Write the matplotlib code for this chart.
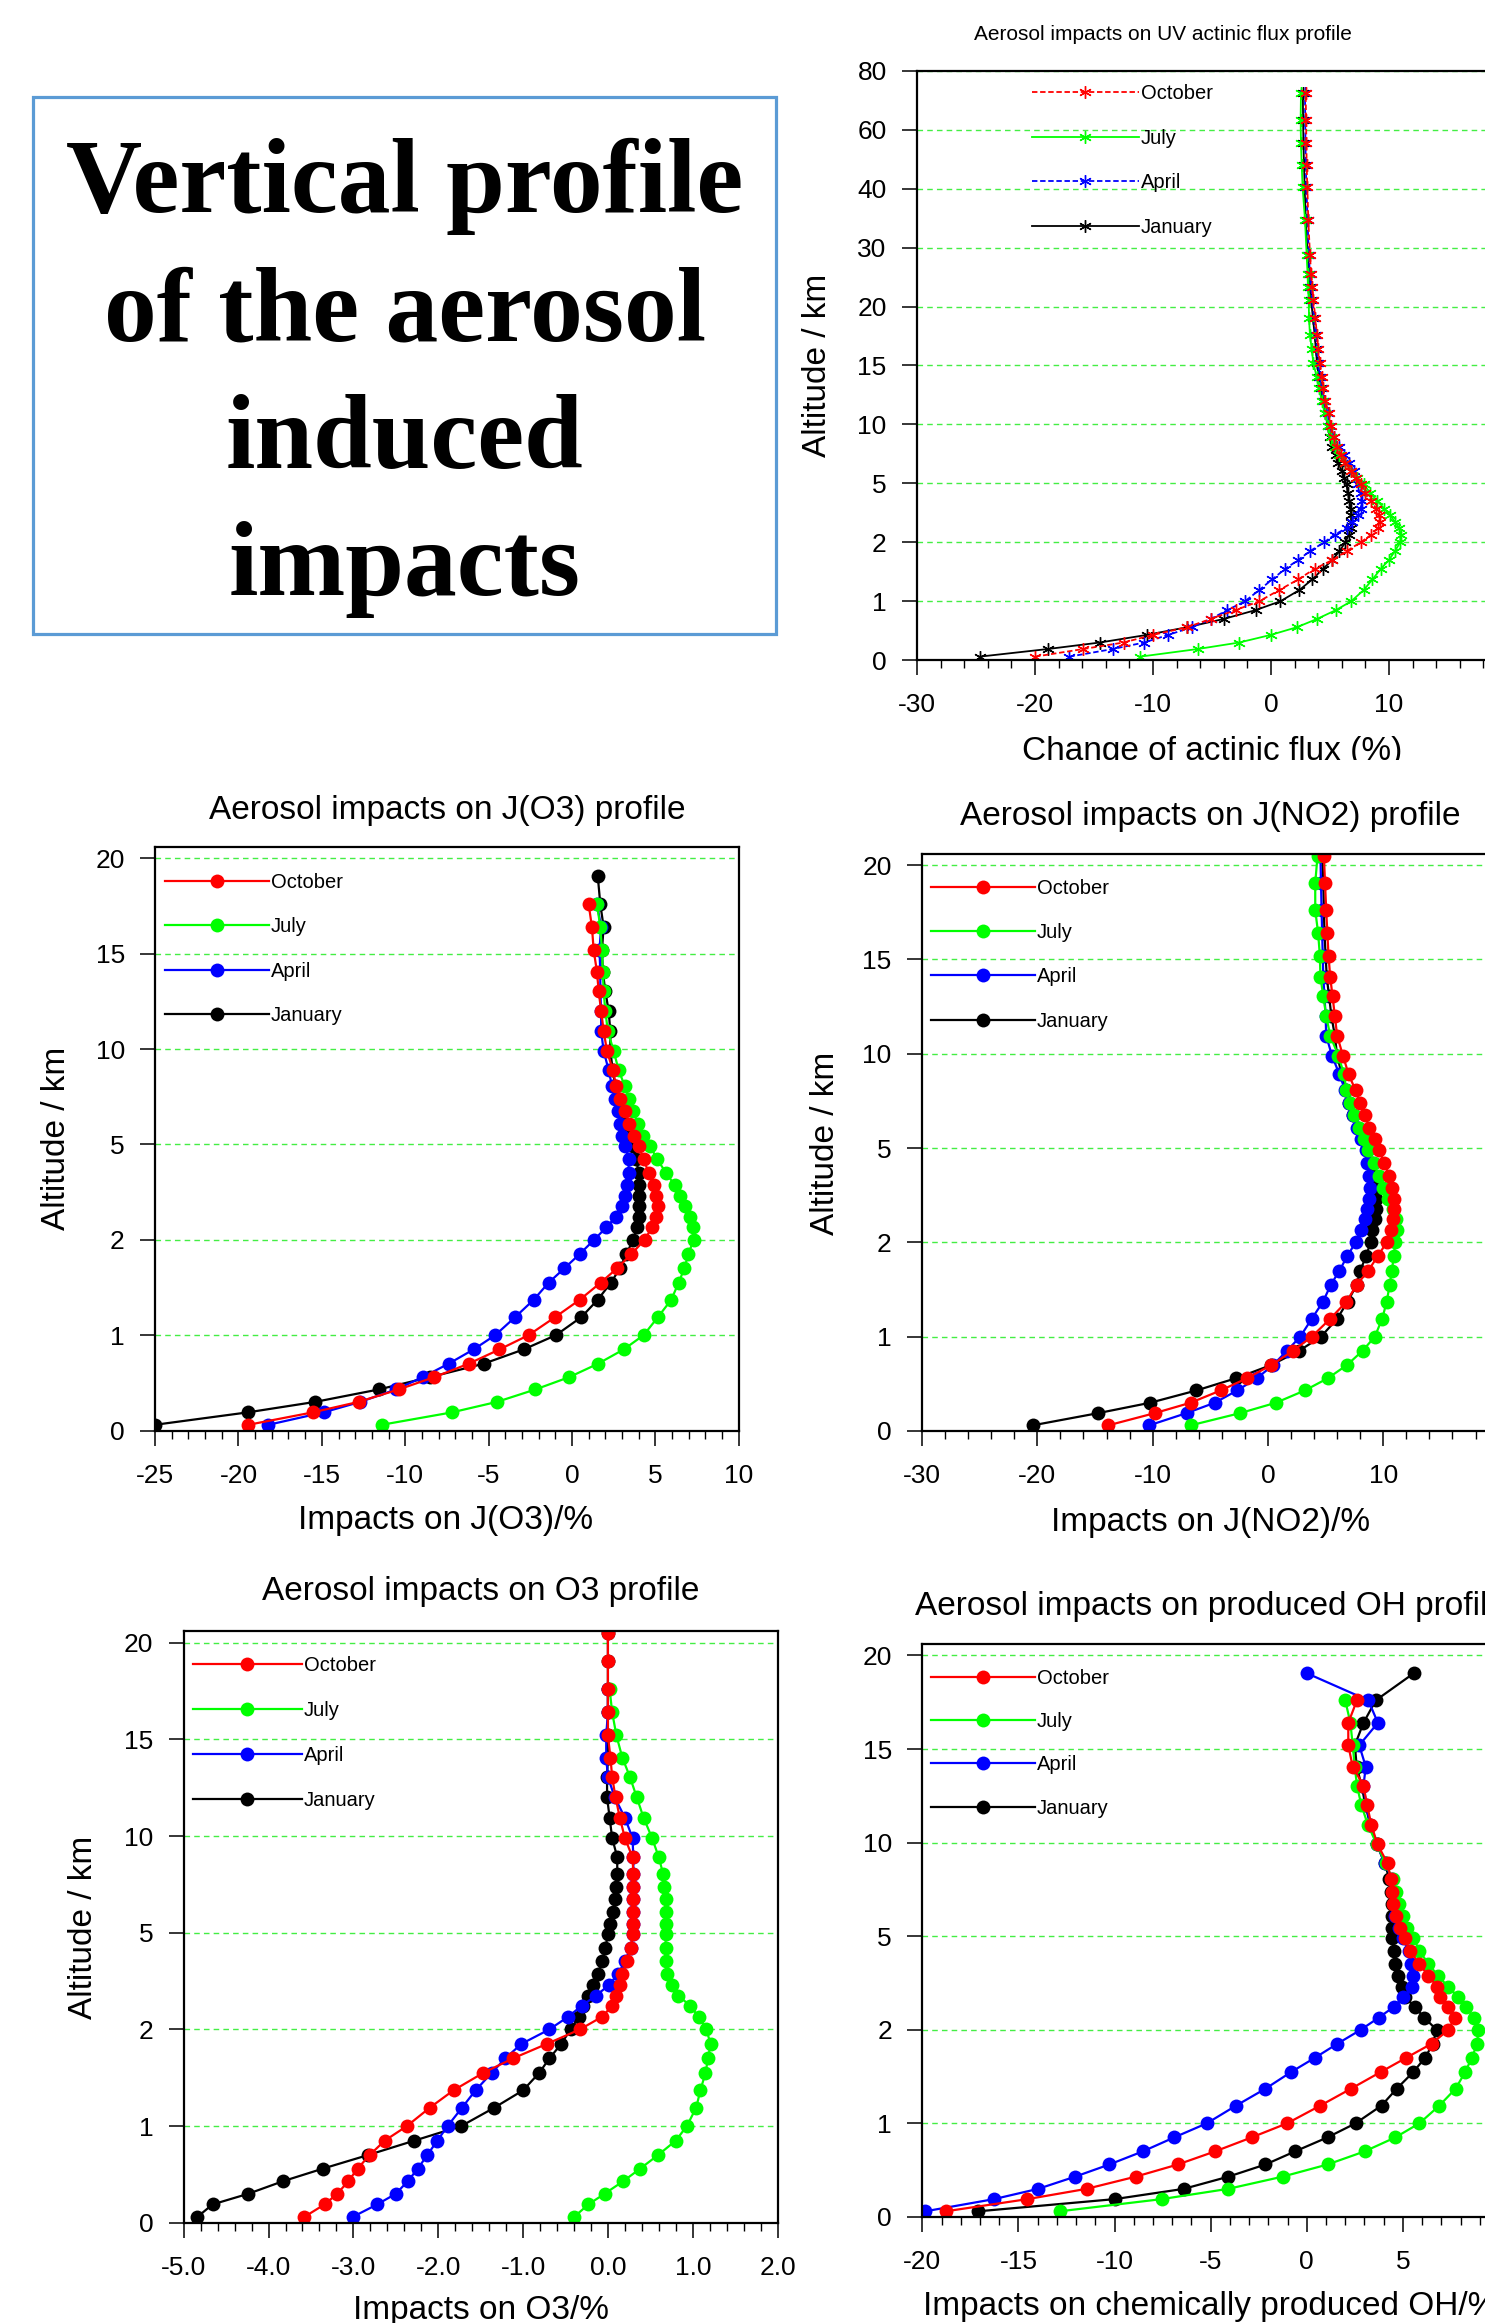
import numpy as np
import matplotlib
matplotlib.use("Agg")
import matplotlib.pyplot as plt
from matplotlib.patches import Rectangle
from matplotlib.ticker import MultipleLocator, NullLocator, FormatStrFormatter
from matplotlib.transforms import Bbox

plt.rcParams["font.family"] = ["Liberation Sans", "DejaVu Sans"]
plt.rcParams["axes.unicode_minus"] = False

# model levels (km)
ALT = [0.06, 0.19, 0.30, 0.43, 0.56, 0.70, 0.85, 1.00, 1.19, 1.37, 1.55, 1.70, 1.85,
       2.00, 2.39, 2.73, 3.05, 3.37, 3.72, 4.11, 4.53, 4.95, 5.46, 6.08, 6.73, 7.37,
       8.05, 8.90, 9.90, 10.95, 12.00, 13.05, 14.05, 15.20, 16.40, 17.60, 19.05, 20.50]
ALT_TOP = ALT[:37] + [21.1, 23.3, 25.5, 28.8, 34.7, 40.5, 48.0, 55.4, 63.2, 72.4]

MONTHS = ["October", "July", "April", "January"]
COLORS = {"October": "#ff0000", "July": "#00ff00", "April": "#0000ff", "January": "#000000"}

# UV actinic flux change (%)
FLUX_OCT = [-20.0, -15.9, -12.5, -10.0, -7.1, -5.1, -3.0, -1.0, 0.7, 2.3, 3.7, 5.2, 6.4,
            7.6, 8.5, 9.05, 9.2, 9.15, 8.9, 8.5, 8.0, 7.6, 7.2, 6.75, 6.3, 5.95, 5.6, 5.3, 5.1,
            4.9, 4.6, 4.43, 4.29, 4.15, 4.0, 3.9, 3.75,
            3.6, 3.5, 3.4, 3.3, 3.16, 3.08, 3.02, 3.0, 2.97, 2.94]
FLUX_JUL = [-11.1, -6.2, -2.7, 0.0, 2.2, 3.9, 5.5, 6.8, 7.85, 8.6, 9.3, 10.0, 10.5,
            10.95, 11.0, 10.85, 10.5, 10.1, 9.6, 9.0, 8.4, 7.85, 7.3, 6.8, 6.3, 5.8, 5.4, 5.05, 4.85,
            4.55, 4.3, 4.07, 3.87, 3.59, 3.45, 3.3, 3.22,
            3.2, 3.13, 3.1, 3.02, 2.88, 2.68, 2.6, 2.54, 2.51, 2.54]
FLUX_APR = [-17.1, -13.4, -10.75, -8.7, -6.7, -5.1, -3.7, -2.2, -1.0, 0.1, 1.2, 2.3, 3.3,
            4.5, 5.4, 6.4, 6.9, 7.4, 7.6, 7.7, 7.6, 7.4, 7.2, 7.0, 6.6, 6.2, 5.8, 5.35, 5.0,
            4.8, 4.5, 4.3, 4.15, 4.0, 3.9, 3.8, 3.65,
            3.5, 3.4, 3.3, 3.2, 3.1, 3.0, 2.95, 2.92, 2.9, 2.88]
FLUX_JAN = [-24.7, -18.9, -14.5, -10.5, -7.1, -4.0, -1.3, 0.8, 2.4, 3.5, 4.4, 5.2, 5.8,
            6.3, 6.6, 6.75, 6.8, 6.8, 6.75, 6.65, 6.5, 6.4, 6.2, 6.0, 5.7, 5.5, 5.2, 5.0, 4.8,
            4.6, 4.4, 4.2, 4.05, 3.9, 3.8, 3.7, 3.55,
            3.4, 3.3, 3.2, 3.1, 2.95, 2.85, 2.8, 2.75, 2.72, 2.7]

# impacts on J(O3) (%)
JO3_OCT = [-19.4, -15.55, -12.8, -10.4, -8.25, -6.2, -4.35, -2.6, -1.0, 0.46, 1.72, 2.7, 3.56,
           4.36, 4.8, 5.05, 5.16, 5.05, 4.93, 4.6, 4.3, 4.0, 3.7, 3.45, 3.2, 2.9, 2.65, 2.45, 2.1,
           1.9, 1.75, 1.6, 1.5, 1.3, 1.2, 1.0]
JO3_JUL = [-11.4, -7.2, -4.5, -2.2, -0.16, 1.56, 3.1, 4.3, 5.16, 5.95, 6.4, 6.74, 6.98,
           7.3, 7.25, 7.05, 6.8, 6.5, 6.15, 5.65, 5.1, 4.7, 4.25, 3.97, 3.67, 3.44, 3.17, 2.8, 2.5,
           2.15, 2.0, 1.9, 1.85, 1.8, 1.7, 1.5]
JO3_APR = [-18.2, -14.9, -12.7, -10.55, -8.95, -7.4, -5.9, -4.6, -3.4, -2.3, -1.4, -0.46, 0.46,
           1.33, 2.06, 2.64, 2.98, 3.17, 3.33, 3.4, 3.4, 3.2, 3.03, 2.87, 2.75, 2.57, 2.4, 2.2, 1.9,
           1.75, 1.75, 1.7, 1.7, 1.65, 1.75, 1.5]
JO3_JAN = [-25.0, -19.45, -15.4, -11.6, -8.5, -5.3, -2.9, -0.96, 0.57, 1.54, 2.34, 2.87, 3.26,
           3.67, 3.9, 4.0, 4.05, 4.05, 4.0, 4.0, 3.85, 3.65, 3.4, 3.2, 3.0, 2.8, 2.6, 2.45, 2.3,
           2.3, 2.2, 2.0, 1.85, 1.8, 1.9, 1.7, 1.55]

# impacts on J(NO2) (%)
JNO2_OCT = [-13.85, -9.8, -6.7, -4.1, -1.8, 0.3, 2.17, 3.8, 5.4, 6.8, 7.7, 8.7, 9.5,
            10.3, 10.7, 10.85, 10.9, 10.9, 10.75, 10.5, 10.1, 9.6, 9.25, 8.8, 8.4, 8.0, 7.6, 7.0, 6.5,
            6.0, 5.8, 5.6, 5.4, 5.25, 5.15, 5.05, 4.95, 4.85]
JNO2_JUL = [-6.7, -2.4, 0.7, 3.2, 5.2, 6.86, 8.2, 9.27, 9.9, 10.3, 10.55, 10.75, 10.9,
            11.05, 11.2, 11.1, 10.8, 10.4, 10.0, 9.6, 9.2, 8.7, 8.3, 7.9, 7.5, 7.1, 6.8, 6.6, 6.1,
            5.4, 5.05, 4.8, 4.55, 4.5, 4.35, 4.1, 4.1, 4.3]
JNO2_APR = [-10.3, -7.05, -4.6, -2.67, -0.95, 0.45, 1.64, 2.8, 3.8, 4.77, 5.45, 6.2, 6.86,
            7.6, 8.1, 8.4, 8.6, 8.74, 8.83, 8.8, 8.6, 8.5, 8.1, 7.7, 7.35, 7.0, 6.7, 6.2, 5.55,
            5.05, 5.0, 4.9, 4.8, 4.75, 4.7, 4.65, 4.6, 4.55]
JNO2_JAN = [-20.4, -14.7, -10.2, -6.2, -2.75, 0.3, 2.7, 4.6, 6.0, 6.9, 7.7, 8.0, 8.5,
            8.9, 9.05, 9.27, 9.36, 9.4, 9.36, 9.15, 9.0, 8.6, 8.2, 7.8, 7.4, 7.05, 6.75, 6.4, 6.0,
            5.8, 5.5, 5.3, 5.1, 5.0, 4.9, 4.85, 4.8, 4.7]

# impacts on O3 (%)
O3_OCT = [-3.58, -3.34, -3.19, -3.06, -2.95, -2.81, -2.63, -2.37, -2.10, -1.82, -1.47, -1.12, -0.72,
          -0.33, -0.07, 0.05, 0.10, 0.14, 0.17, 0.23, 0.27, 0.29, 0.29, 0.30, 0.30, 0.30, 0.30, 0.29, 0.20,
          0.14, 0.09, 0.05, 0.03, 0.0, 0.0, 0.0, 0.0, 0.0]
O3_JUL = [-0.40, -0.23, -0.04, 0.18, 0.38, 0.59, 0.80, 0.93, 1.04, 1.09, 1.15, 1.18, 1.21,
          1.16, 1.07, 0.97, 0.83, 0.75, 0.70, 0.68, 0.68, 0.68, 0.68, 0.68, 0.68, 0.66, 0.65, 0.60, 0.52,
          0.42, 0.34, 0.26, 0.17, 0.10, 0.05, 0.02]
O3_APR = [-3.01, -2.72, -2.50, -2.36, -2.24, -2.13, -2.01, -1.89, -1.72, -1.56, -1.37, -1.21, -1.02,
          -0.69, -0.47, -0.31, -0.14, 0.01, 0.12, 0.20, 0.27, 0.30, 0.30, 0.30, 0.30, 0.30, 0.30, 0.30, 0.29,
          0.20, 0.08, 0.0, -0.02, -0.02, 0.0, 0.0]
O3_JAN = [-4.84, -4.66, -4.24, -3.83, -3.36, -2.83, -2.28, -1.73, -1.34, -1.0, -0.81, -0.69, -0.55,
          -0.44, -0.34, -0.29, -0.23, -0.18, -0.12, -0.07, -0.03, 0.0, 0.03, 0.06, 0.08, 0.09, 0.11, 0.11, 0.05,
          0.02, -0.01, -0.01, 0.0, 0.0, 0.0, 0.0, 0.0, 0.0]

# impacts on chemically produced OH (%)
OH_OCT = [-18.77, -14.53, -11.45, -8.9, -6.71, -4.77, -2.86, -1.02, 0.71, 2.3, 3.86, 5.17, 6.49,
          7.37, 7.69, 7.37, 6.94, 6.8, 6.33, 5.86, 5.36, 5.11, 4.83, 4.65, 4.46, 4.42, 4.37, 4.2, 3.68,
          3.36, 3.14, 2.95, 2.39, 2.16, 2.16, 2.61]
OH_JUL = [-12.84, -7.55, -4.08, -1.26, 1.08, 3.01, 4.61, 5.86, 6.9, 7.74, 8.25, 8.58, 8.87,
          8.92, 8.68, 8.3, 7.87, 7.37, 6.84, 6.33, 5.86, 5.55, 5.21, 5.02, 4.8, 4.65, 4.46, 4.1, 3.64,
          3.18, 2.84, 2.61, 2.5, 2.39, 2.27, 2.0]
OH_APR = [-19.84, -16.27, -13.97, -12.05, -10.27, -8.53, -6.89, -5.2, -3.67, -2.15, -0.8, 0.42, 1.59,
          2.81, 3.75, 4.52, 5.03, 5.49, 5.54, 5.43, 5.3, 5.0, 4.8, 4.6, 4.55, 4.5, 4.45, 4.05, 3.65,
          3.3, 3.1, 2.95, 3.07, 2.73, 3.7, 3.2, 0.0]
OH_JAN = [-17.08, -9.99, -6.39, -4.08, -2.15, -0.61, 1.08, 2.54, 3.89, 4.68, 5.55, 6.15, 6.56,
          6.75, 6.11, 5.62, 5.12, 4.93, 4.74, 4.6, 4.52, 4.45, 4.43, 4.45, 4.45, 4.4, 4.3, 4.05, 3.65,
          3.3, 3.05, 2.85, 2.6, 2.5, 2.95, 3.59, 5.57]

KNOTS_TOP = [0, 1, 2, 5, 10, 15, 20, 30, 40, 60, 80]
KNOTS_LOW = [0, 1, 2, 5, 10, 15, 20, 25]
YTICKS_TOP = [0, 1, 2, 5, 10, 15, 20, 30, 40, 60, 80]
YTICKS_LOW = [0, 1, 2, 5, 10, 15, 20]

W, H = 1485, 2323
fig = plt.figure(figsize=(W / 100, H / 100), dpi=100)


def fx(x):
    return x / W


def fy(y):
    return 1 - y / H


def make_axes(l, t, r, b, knots, yticks, ytop, xlim, xmaj, xmin, fmt):
    ax = fig.add_axes([fx(l), fy(b), (r - l) / W, (b - t) / H])
    idx = np.arange(len(knots), dtype=float)
    # altitude axis stretched piecewise so that the labelled levels are evenly spaced
    ax.set_yscale("function", functions=(lambda y, k=knots, i=idx: np.interp(y, k, i),
                                         lambda u, k=knots, i=idx: np.interp(u, i, k)))
    ax.set_ylim(0, ytop)
    ax.set_xlim(*xlim)
    ax.set_yticks(yticks)
    ax.set_yticklabels([str(t) for t in yticks])
    ax.yaxis.set_minor_locator(NullLocator())
    ax.xaxis.set_major_locator(MultipleLocator(xmaj))
    ax.xaxis.set_minor_locator(MultipleLocator(xmin))
    ax.xaxis.set_major_formatter(FormatStrFormatter(fmt))
    ax.tick_params(axis="y", which="major", direction="out", length=10.8, width=1.1,
                   labelsize=19, pad=11, right=False)
    ax.tick_params(axis="x", which="major", direction="out", length=10.8, width=1.1,
                   labelsize=19, pad=13, top=False)
    ax.tick_params(axis="x", which="minor", direction="out", length=5.5, width=1.0, top=False)
    for s in ax.spines.values():
        s.set_linewidth(1.6)
    ax.grid(axis="y", which="major", color="#44ee44", linestyle=(0, (4, 3)), linewidth=1.0)
    ax.set_axisbelow(True)
    return ax, (r - l), (b - t)


def add_legend(ax, handles, wpx, hpx, xoff, ycenter, step, hl_px, fs=14.5):
    fs_px = fs * 100 / 72
    txt_h = 0.9 * fs_px
    ax.legend(handles=handles, labels=MONTHS, loc="upper left",
              bbox_to_anchor=(xoff / wpx, 1 - (ycenter - txt_h / 2) / hpx),
              frameon=False, fontsize=fs, handlelength=hl_px / fs_px, handletextpad=0.1,
              labelspacing=(step - txt_h) / fs_px, borderpad=0, borderaxespad=0, numpoints=1)


def profile_panel(ax, alts, series, top=False):
    lines = {}
    for m in ["January", "April", "July", "October"]:
        x = series[m]
        y = alts[:len(x)]
        if top:
            dashed = m in ("October", "April")
            ln, = ax.plot(x, y, color=COLORS[m], lw=1.3, marker=(6, 2, 0), ms=9, mew=1.0,
                          linestyle=(0, (3, 1.5)) if dashed else "-")
        else:
            ln, = ax.plot(x, y, color=COLORS[m], lw=1.6, marker="o", ms=10, mew=0)
        lines[m] = ln
    return [lines[m] for m in MONTHS]


# ---- top-left text box
fig.add_artist(Rectangle((fx(33), fy(634)), (776 - 33) / W, (634 - 97) / H,
                         transform=fig.transFigure, fill=False, edgecolor="#5b9bd5", linewidth=2.3))
for txt, yb in [("Vertical profile", 212), ("of the aerosol", 340), ("induced", 468), ("impacts", 595)]:
    fig.text(fx(404.5), fy(yb), txt, ha="center", va="baseline", fontsize=76,
             fontweight="bold", family=["Liberation Serif", "DejaVu Serif"])

# ---- top panel: actinic flux
ax, wpx, hpx = make_axes(917, 70.8, 1507, 660.2, KNOTS_TOP, YTICKS_TOP, 80, (-30, 20), 10, 2, "%d")
h = profile_panel(ax, ALT_TOP, {"October": FLUX_OCT, "July": FLUX_JUL,
                                "April": FLUX_APR, "January": FLUX_JAN}, top=True)
add_legend(ax, h, wpx, hpx, 114.6, 22, 44, 107)
fig.text(fx(1163), fy(35), "Aerosol impacts on UV actinic flux profile", ha="center", va="center", fontsize=15)
fig.text(fx(818), fy(365.5), "Altitude / km", rotation=90, ha="center", va="center", fontsize=24)
lbl = fig.text(fx(1212), fy(760), "Change of actinic flux (%)", ha="center", va="baseline", fontsize=24)
lbl.set_clip_box(Bbox.from_extents(0, H - 760, W, H))
lbl.set_clip_on(True)

# ---- J(O3)
ax, wpx, hpx = make_axes(155.1, 846.9, 738.7, 1430.5, KNOTS_LOW, YTICKS_LOW, 20.6, (-25, 10), 5, 1, "%d")
h = profile_panel(ax, ALT, {"October": JO3_OCT, "July": JO3_JUL, "April": JO3_APR, "January": JO3_JAN})
add_legend(ax, h, wpx, hpx, 10, 35, 43.5, 104)
fig.text(fx(446.9), fy(810), "Aerosol impacts on J(O3) profile", ha="center", va="center", fontsize=24)
fig.text(fx(57), fy(1138.7), "Altitude / km", rotation=90, ha="center", va="center", fontsize=24)
fig.text(fx(446), fy(1529), "Impacts on J(O3)/%", ha="center", va="baseline", fontsize=24)

# ---- J(NO2)
ax, wpx, hpx = make_axes(922, 853.7, 1498.6, 1431, KNOTS_LOW, YTICKS_LOW, 20.6, (-30, 20), 10, 2, "%d")
h = profile_panel(ax, ALT, {"October": JNO2_OCT, "July": JNO2_JUL, "April": JNO2_APR, "January": JNO2_JAN})
add_legend(ax, h, wpx, hpx, 8.6, 34, 43.5, 104)
fig.text(fx(1210.5), fy(816), "Aerosol impacts on J(NO2) profile", ha="center", va="center", fontsize=24)
fig.text(fx(825), fy(1143), "Altitude / km", rotation=90, ha="center", va="center", fontsize=24)
fig.text(fx(1210.3), fy(1531), "Impacts on J(NO2)/%", ha="center", va="baseline", fontsize=24)

# ---- O3
ax, wpx, hpx = make_axes(183.7, 1631, 777.6, 2222.8, KNOTS_LOW, YTICKS_LOW, 20.6, (-5, 2), 1, 0.2, "%.1f")
h = profile_panel(ax, ALT, {"October": O3_OCT, "July": O3_JUL, "April": O3_APR, "January": O3_JAN})
add_legend(ax, h, wpx, hpx, 9, 34.5, 44, 109)
fig.text(fx(481), fy(1591.6), "Aerosol impacts on O3 profile", ha="center", va="center", fontsize=24)
fig.text(fx(84), fy(1927), "Altitude / km", rotation=90, ha="center", va="center", fontsize=24)
fig.text(fx(480.7), fy(2318.7), "Impacts on O3/%", ha="center", va="baseline", fontsize=24)

# ---- OH
ax, wpx, hpx = make_axes(922.3, 1644.2, 1499, 2216.9, KNOTS_LOW, YTICKS_LOW, 20.6, (-20, 10), 5, 1, "%d")
h = profile_panel(ax, ALT, {"October": OH_OCT, "July": OH_JUL, "April": OH_APR, "January": OH_JAN})
add_legend(ax, h, wpx, hpx, 8.7, 33.5, 42.5, 103.6)
fig.text(fx(1210.6), fy(1606), "Aerosol impacts on produced OH profile", ha="center", va="center", fontsize=24)
fig.text(fx(1210.6), fy(2315), "Impacts on chemically produced OH/%", ha="center", va="baseline", fontsize=24)

fig.savefig("out.png", dpi=100)
